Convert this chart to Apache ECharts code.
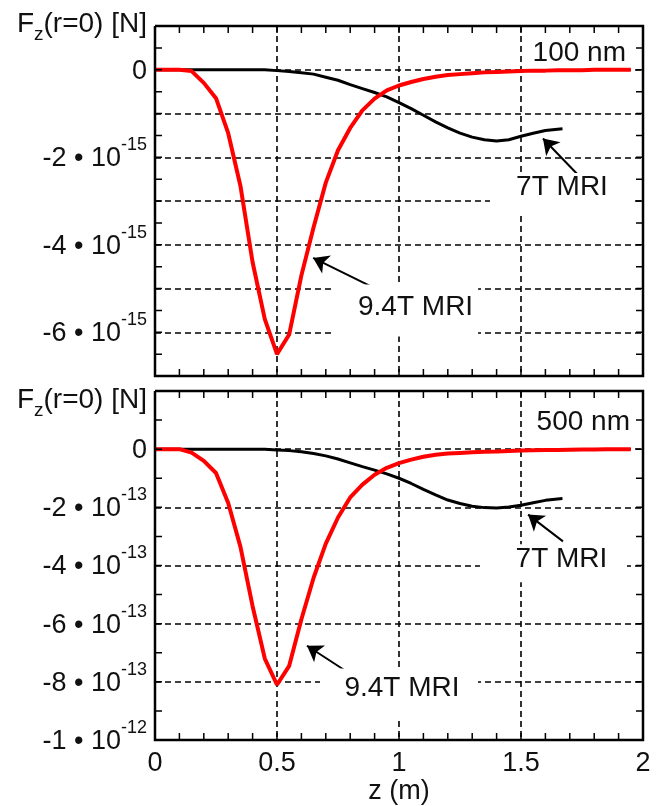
<!DOCTYPE html>
<html><head><meta charset="utf-8">
<script src="https://cdn.jsdelivr.net/npm/echarts@6/dist/echarts.min.js"></script>
<style>html,body{margin:0;padding:0;background:#fff}#c{width:659px;height:806px}</style>
</head><body><div id="c"></div>
<script>
// z positions (m)
const zRed = [0,0.05,0.1,0.15,0.2,0.25,0.3,0.35,0.4,0.45,0.5,0.55,0.6,0.65,0.7,0.75,0.8,0.85,0.9,0.95,
              1.0,1.05,1.1,1.15,1.2,1.25,1.3,1.35,1.4,1.45,1.5,1.55,1.6,1.65,1.7,1.75,1.8,1.85,1.9,1.95];
const zBlack = [0,0.05,0.1,0.15,0.2,0.25,0.3,0.35,0.4,0.45,0.5,0.55,0.6,0.65,0.7,0.75,0.8,0.85,0.9,0.95,
                1.0,1.05,1.1,1.15,1.2,1.25,1.3,1.35,1.4,1.45,1.5,1.55,1.6,1.65,1.67];
// 100 nm panel, values in units of 1e-15 N
const red100 = [0,0,0,-0.03,-0.3,-0.65,-1.45,-2.65,-4.4,-5.7,-6.5,-6.05,-4.7,-3.6,-2.58,-1.84,-1.33,-0.93,-0.66,-0.47,
                -0.36,-0.28,-0.21,-0.16,-0.12,-0.1,-0.08,-0.06,-0.05,-0.04,-0.03,-0.02,-0.02,-0.01,-0.01,-0.01,0,0,0,0];
const black100 = [0,0,0,0,0,0,0,0,0,0,-0.02,-0.04,-0.07,-0.1,-0.17,-0.24,-0.34,-0.43,-0.52,-0.62,
                  -0.75,-0.89,-1.04,-1.19,-1.33,-1.45,-1.54,-1.6,-1.63,-1.6,-1.52,-1.45,-1.39,-1.36,-1.35];
// 500 nm panel, values in units of 1e-13 N
const red500 = [0,0,0,-0.12,-0.4,-0.82,-1.85,-3.35,-5.4,-7.2,-8.1,-7.45,-5.85,-4.42,-3.25,-2.35,-1.66,-1.22,-0.88,-0.64,
                -0.48,-0.36,-0.26,-0.19,-0.15,-0.13,-0.11,-0.09,-0.08,-0.06,-0.05,-0.04,-0.03,-0.03,-0.02,-0.01,-0.01,0,0,0];
const black500 = [0,0,0,0,0,0,0,0,0,0,-0.03,-0.05,-0.09,-0.15,-0.23,-0.34,-0.47,-0.6,-0.72,-0.85,
                  -1.0,-1.18,-1.38,-1.57,-1.75,-1.87,-1.96,-2.01,-2.02,-1.99,-1.93,-1.84,-1.76,-1.71,-1.7];
// axis ranges
const xRange = [0, 2];
const yTopRange = [-7, 1];
const yBotRange = [-10, 2];
// tick labels
const xTickLabels = {0:'0',0.5:'0.5',1:'1',1.5:'1.5',2:'2'};
const yTopLabels = {'0':['0',''],'-2':['-2 • 10','-15'],'-4':['-4 • 10','-15'],'-6':['-6 • 10','-15']};
const yBotLabels = {'0':['0',''],'-2':['-2 • 10','-13'],'-4':['-4 • 10','-13'],'-6':['-6 • 10','-13'],'-8':['-8 • 10','-13'],'-10':['-1 • 10','-12']};
// inward tick positions (major + minor)
const xTickVals = [0,0.1,0.2,0.3,0.4,0.5,0.6,0.7,0.8,0.9,1,1.1,1.2,1.3,1.4,1.5,1.6,1.7,1.8,1.9,2];
const yTopTickVals = [-7,-6.5,-6,-5.5,-5,-4.5,-4,-3.5,-3,-2.5,-2,-1.5,-1,-0.5,0,0.5,1];
const yBotTickVals = [-10,-9,-8,-7,-6,-5,-4,-3,-2,-1,0,1,2];

const FF = '"Liberation Sans", Arial, sans-serif';
const TICK_PX = 7;
const zip = (xs, ys) => ys.map((v,i)=>[xs[i], v]);
function yFmt(map){
  return function(v){
    const k = String(Math.round(v));
    const e = map[k];
    if(!e) return '';
    if(!e[1]) return '{a|'+e[0]+'}';
    return '{a|'+e[0]+'}{b|'+e[1]+'}';
  };
}
const richY = () => ({
  a:{fontSize:27, fontFamily:FF, color:'#111', lineHeight:30, verticalAlign:'top', padding:[9,0,11,0]},
  b:{fontSize:18, fontFamily:FF, color:'#111', lineHeight:18, verticalAlign:'top'}
});
const dash = () => ({show:true, lineStyle:{color:'#000', width:1.6, type:[6,4]}});
function xGridAx(grid, labels){
  const o = {type:'value', gridIndex:grid, position:'bottom', min:xRange[0], max:xRange[1], interval:0.5,
    axisLine:{show:false, onZero:false}, axisTick:{show:false}, minorTick:{show:false},
    axisLabel: labels ? {show:true, fontSize:27, fontFamily:FF, color:'#111', margin:10,
        formatter:v=>xTickLabels[Math.round(v*2)/2] ?? ''} : {show:false},
    splitLine: dash()};
  if(labels){ o.name='z (m)'; o.nameLocation='middle'; o.nameGap=38;
    o.nameTextStyle={fontSize:27, fontFamily:FF, color:'#111'}; }
  return o;
}
function yGridAx(grid, range, step, fmt){
  return {type:'value', gridIndex:grid, position:'left', min:range[0], max:range[1], interval:step,
    axisLine:{show:false, onZero:false}, axisTick:{show:false}, minorTick:{show:false},
    axisLabel:{show:true, margin:8, formatter:fmt, rich:richY(), padding:[0,0,12,0]},
    splitLine: dash()};
}
// frame: closed polyline along the axis ranges
function frameSeries(idx, yr){
  return {type:'line', xAxisIndex:idx, yAxisIndex:idx, z:6, silent:true, clip:false, symbol:'none',
    lineStyle:{color:'#000', width:2.5, join:'miter'},
    data:[[xRange[0],yr[1]],[xRange[1],yr[1]],[xRange[1],yr[0]],[xRange[0],yr[0]],[xRange[0],yr[1]]]};
}
// inward ticks on all four sides; tick length converted from pixels with the axes' own scales
function tickSeries(idx, yVals, yr, dx, dy){
  const B = ['-','-'];
  const d = [];
  xTickVals.forEach(v=>{ d.push([v,yr[0]],[v,yr[0]+dy],B,[v,yr[1]],[v,yr[1]-dy],B); });
  yVals.forEach(u=>{ d.push([xRange[0],u],[xRange[0]+dx,u],B,[xRange[1],u],[xRange[1]-dx,u],B); });
  return {type:'line', xAxisIndex:idx, yAxisIndex:idx, z:6, silent:true, clip:false, symbol:'none',
    showSymbol:false, connectNulls:false, lineStyle:{color:'#000', width:1.5}, data:d};
}
const annoLabel = (t, off) => ({show:true, position:'inside', formatter:t, offset:off,
  color:'#111', fontSize:28, fontFamily:FF});
const box = (coord, size, t, off) => ({coord:coord, symbol:'rect', symbolSize:size,
  itemStyle:{color:'#fff'}, label:annoLabel(t, off)});
const arrows = (list) => ({silent:true, animation:false, symbol:['none','arrow'], symbolSize:15,
  label:{show:false}, emphasis:{disabled:true}, lineStyle:{color:'#000', width:2, type:'solid'},
  data:list.map(p=>[{coord:p[0]},{coord:p[1]}])});
const nameRich = () => ({m:{fontSize:28, fontFamily:FF, fill:'#111', lineHeight:30, verticalAlign:'top'},
                  s:{fontSize:19, fontFamily:FF, fill:'#111', lineHeight:30, verticalAlign:'top', padding:[15,0,0,0]}});

function buildOption(ticks){
  const series = [
    {type:'line', xAxisIndex:0, yAxisIndex:0, data:zip(zBlack, black100), symbol:'none', z:2,
     lineStyle:{color:'#000', width:3}, silent:true,
     markPoint:{silent:true, animation:false, data:[
       box([1.668,-2.84],[144,42],'7T MRI',[0,-7]),
       box([1.027,-5.5],[145,52],'9.4T MRI',[10,-3])]}},
    {type:'line', xAxisIndex:0, yAxisIndex:0, data:zip(zRed, red100), symbol:'none', z:3,
     lineStyle:{color:'#ff0000', width:4}, silent:true,
     markLine:arrows([[[1.742,-2.45],[1.590,-1.57]], [[0.910,-5.02],[0.648,-4.30]]])},
    {type:'line', xAxisIndex:1, yAxisIndex:1, data:zip(zBlack, black500), symbol:'none', z:2,
     lineStyle:{color:'#000', width:3}, silent:true,
     markPoint:{silent:true, animation:false, data:[
       box([1.633,-3.92],[147,38],'7T MRI',[8,-4]),
       box([1.0,-8.4],[158,50],'9.4T MRI',[3,-5])]}},
    {type:'line', xAxisIndex:1, yAxisIndex:1, data:zip(zRed, red500), symbol:'none', z:3,
     lineStyle:{color:'#ff0000', width:4}, silent:true,
     markLine:arrows([[[1.672,-3.17],[1.529,-2.25]], [[0.779,-7.61],[0.623,-6.76]]])},
    frameSeries(0, yTopRange),
    frameSeries(1, yBotRange)
  ];
  if(ticks){
    series.push(tickSeries(0, yTopTickVals, yTopRange, ticks.dx, ticks.dyTop));
    series.push(tickSeries(1, yBotTickVals, yBotRange, ticks.dx, ticks.dyBot));
  }
  return {
    animation:false,
    grid:[{left:155, top:26, width:488, height:350},
          {left:155, top:391, width:488, height:351}],
    xAxis:[xGridAx(0,false), xGridAx(1,true)],
    yAxis:[yGridAx(0,yTopRange,1,yFmt(yTopLabels)), yGridAx(1,yBotRange,2,yFmt(yBotLabels))],
    graphic:[
      {type:'text', x:147, y:25, style:{text:'{m|F}{s|z}{m|(r=0) [N]}', align:'right', verticalAlign:'middle', rich:nameRich()}},
      {type:'text', x:147, y:401, style:{text:'{m|F}{s|z}{m|(r=0) [N]}', align:'right', verticalAlign:'middle', rich:nameRich()}},
      {type:'text', x:626, y:53, style:{text:'100 nm', align:'right', verticalAlign:'middle', fontSize:28, fontFamily:FF, fill:'#111'}},
      {type:'text', x:630, y:422, style:{text:'500 nm', align:'right', verticalAlign:'middle', fontSize:28, fontFamily:FF, fill:'#111'}}
    ],
    series:series
  };
}

const chart = echarts.init(document.getElementById('c'));
chart.setOption(buildOption(null));
// tick length in data units, from the library's own scales
const a0 = chart.convertToPixel({gridIndex:0}, [0, 0]);
const a1 = chart.convertToPixel({gridIndex:0}, [1, 1]);
const b0 = chart.convertToPixel({gridIndex:1}, [0, 0]);
const b1 = chart.convertToPixel({gridIndex:1}, [1, 1]);
const ticks = {
  dx: TICK_PX / Math.abs(a1[0] - a0[0]),
  dyTop: TICK_PX / Math.abs(a1[1] - a0[1]),
  dyBot: TICK_PX / Math.abs(b1[1] - b0[1])
};
chart.setOption(buildOption(ticks), true);
</script></body></html>
